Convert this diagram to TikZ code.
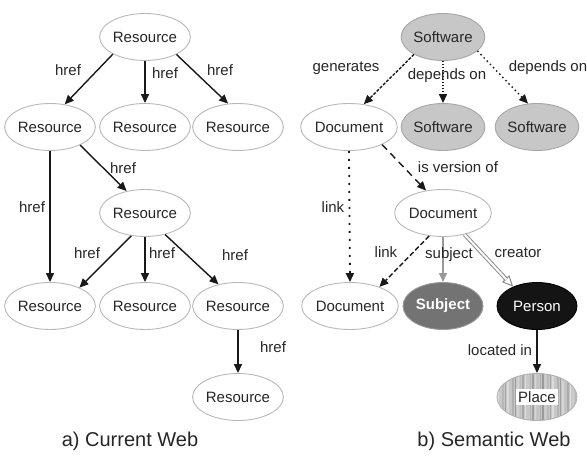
\documentclass[tikz,border=0pt]{standalone}
\usepackage{fontspec}
\setmainfont{Liberation Sans}
\usetikzlibrary{arrows.meta,shapes.geometric}
\begin{document}
\begin{tikzpicture}[x=1pt,y=-1pt,
  res/.style={ellipse, draw=black!28, line width=0.9pt, minimum width=80pt, minimum height=47pt, inner sep=0pt, font=\fontsize{15}{17}\selectfont, text=black!85},
  soft/.style={res, fill=black!22, draw=black!35},
  lab/.style={font=\fontsize{15}{17}\selectfont, text=black!85, inner sep=0pt},
  captext/.style={font=\fontsize{20}{23}\selectfont, text=black!85, inner sep=0pt},
  arr/.style={line width=1.4pt, draw=black!90, -{Triangle[length=9pt,width=8pt]}},
]
\useasboundingbox (0,0) rectangle (587,458);

% ---------- a) Current Web ----------
\node[res] (r0) at (145,37) {Resource};
\node[res] (r1) at (50,127) {Resource};
\node[res] (r2) at (145,127) {Resource};
\node[res] (r3) at (238,127) {Resource};
\node[res] (r4) at (145,213) {Resource};
\node[res] (r5) at (50,306) {Resource};
\node[res] (r6) at (145,306) {Resource};
\node[res] (r7) at (238,306) {Resource};
\node[res] (r8) at (238,397) {Resource};

\draw[arr] (r0.208) -- (r1.57);
\draw[arr] (r0.south) -- (r2.north);
\draw[arr] (r0.-29) -- (r3.113);
\draw[arr] (r1.-31) -- (r4.130);
\draw[arr] (r1.south) -- (r5.north);
\draw[arr] (r4.239) -- (r5.32);
\draw[arr] (r4.south) -- (r6.north);
\draw[arr] (r4.-47) -- (r7.132);
\draw[arr] (r7.south) -- (r8.north);

\node[lab] (h1) at (68,70) {href};
\node[lab] (h2) at (165,73) {href};
\node[lab] (h3) at (220,70) {href};
\node[lab] (h4) at (123,168) {href};
\node[lab] (h5) at (32,207) {href};
\node[lab] (h6) at (87,253) {href};
\node[lab] (h7) at (162,253) {href};
\node[lab] (h8) at (235,255) {href};
\node[lab] (h9) at (273,347) {href};

\node[captext] (capa) at (130,441) {a) Current Web};

% ---------- b) Semantic Web ----------
\node[soft] (s0) at (443,37) {Software};
\node[res] (d1) at (349,127) {Document};
\node[soft] (s1) at (443,127) {Software};
\node[soft] (s2) at (537,127) {Software};
\node[res] (d2) at (443,213) {Document};
\node[res] (d3) at (350,306) {Document};
\node[res, fill=black!55, draw=black!40, text=white, font=\fontsize{15}{17}\selectfont\bfseries] (subj) at (443,306) {Subject};
\node[res, fill=black!92, draw=black, text=white] (pers) at (537,306) {Person};

\begin{scope}
  \clip (537,397) ellipse [x radius=40pt, y radius=23.5pt];
  \fill[black!22] (497,373) rectangle (577,421);
  \foreach \i in {0,...,32} {
    \pgfmathtruncatemacro\g{mod(\i*37,29)+12}
    \draw[black!\g, line width=1.3pt] (498+\i*2.5,372) -- (498+\i*2.5,422);
  }
\end{scope}
\node[res, fill=none, draw=black!30] (place) at (537,397) {};
\node[fill=white, inner sep=2.5pt, font=\fontsize{15}{17}\selectfont, text=black!85] (placet) at (place) {Place};

\draw[arr, dash pattern=on 3pt off 1.5pt] (s0.211) -- (d1.57);
\draw[arr, dash pattern=on 1.5pt off 1.5pt] (s0.south) -- (s1.north);
\draw[arr, dash pattern=on 1.5pt off 3pt] (s0.-22) -- (s2.111);
\draw[arr, dash pattern=on 7pt off 5pt] (d1.-28) -- (d2.127);
\draw[arr, line width=1.8pt, dash pattern=on 2pt off 6pt] (d1.south) -- (d3.north);
\draw[arr, dash pattern=on 5pt off 2.5pt] (d2.239) -- (d3.33);
\draw[arr, draw=black!40, -{Triangle[length=9pt,width=8pt,fill=black!40]}] (d2.south) -- (subj.north);
\draw[black!45, line width=1pt, -{Triangle[open,length=11pt,width=10pt,fill=white]}] (d2.-45) -- (pers.141);
\draw[black!45, line width=1pt, double=white, double distance=2pt, shorten >=10pt] (d2.-45) -- (pers.141);
\draw[arr] (pers.south) -- (place.north);

\node[lab] (l1) at (346,68) {generates};
\node[lab] (l2) at (447,76) {depends on};
\node[lab] (l3) at (548,68) {depends on};
\node[lab] (l4) at (458,167) {is version of};
\node[lab] (l5) at (333,207) {link};
\node[lab] (l6) at (386,252) {link};
\node[lab] (l7) at (449,255) {subject};
\node[lab] (l8) at (518,253) {creator};
\node[lab] (l9) at (500,350) {located in};

\node[captext] (capb) at (494,441) {b) Semantic Web};
\end{tikzpicture}
\end{document}
